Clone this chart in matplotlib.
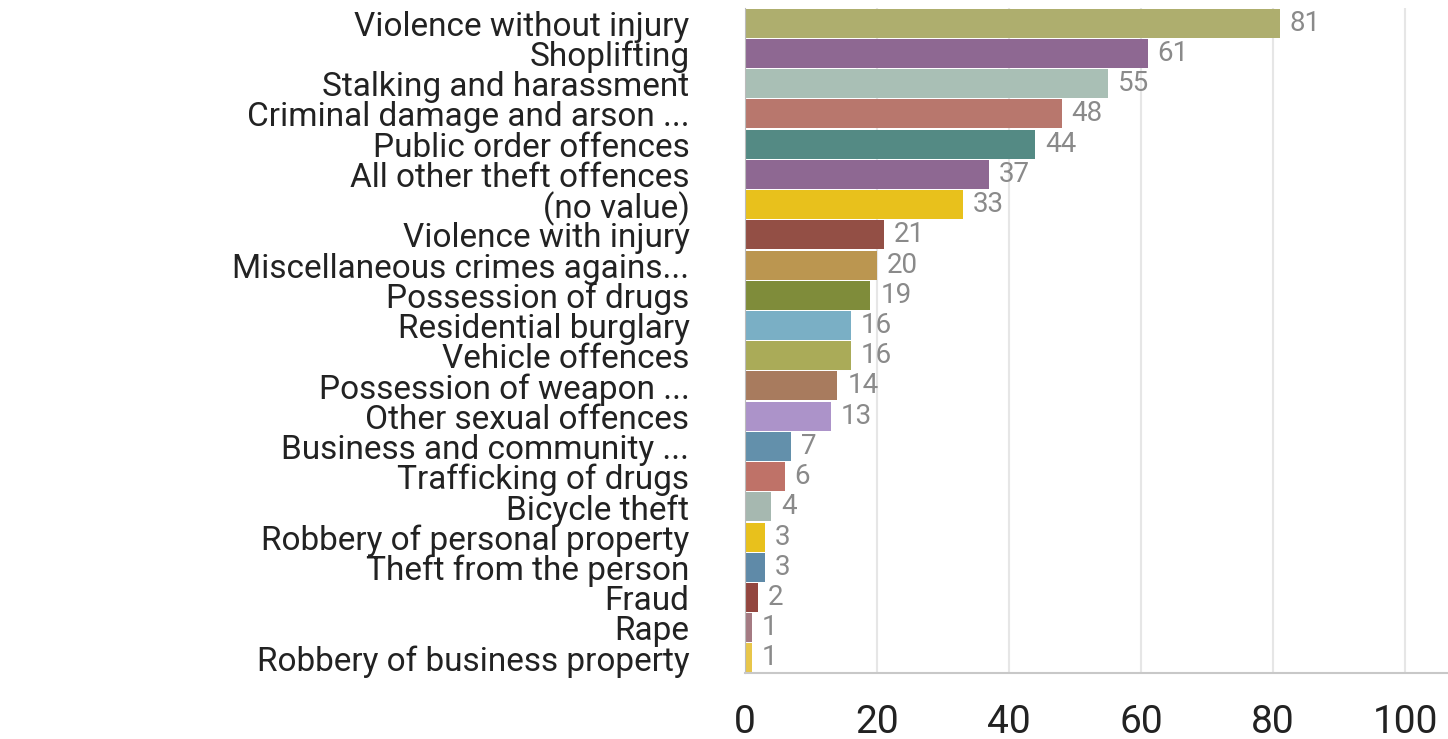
import matplotlib.pyplot as plt
import numpy as np

categories = [
    "Violence without injury", "Shoplifting", "Stalking and harassment",
    "Criminal damage and arson ...", "Public order offences",
    "All other theft offences", "(no value)", "Violence with injury",
    "Miscellaneous crimes agains...", "Possession of drugs",
    "Residential burglary", "Vehicle offences", "Possession of weapon ...",
    "Other sexual offences", "Business and community ...",
    "Trafficking of drugs", "Bicycle theft", "Robbery of personal property",
    "Theft from the person", "Fraud", "Rape", "Robbery of business property",
]
values = [81, 61, 55, 48, 44, 37, 33, 21, 20, 19, 16, 16, 14, 13, 7, 6, 4, 3, 3, 2, 1, 1]
colors = [
    "#aeae6e", "#8e6892", "#a9bfb5", "#b8776d", "#548a84", "#8e6892",
    "#e8c11c", "#934f45", "#bb9650", "#7f8c3a", "#7aafc5", "#aaab58",
    "#a87b5e", "#ac93c9", "#6390ab", "#bf7268", "#a6b8b0", "#e8c11c",
    "#5f8aa8", "#93463f", "#a47a82", "#e8c64a",
]
xticks = [0, 20, 40, 60, 80, 100]

plt.rcParams['font.family'] = ['Roboto', 'DejaVu Sans']

fig = plt.figure(figsize=(14.48, 7.39), dpi=100)
ax = fig.add_axes([0.5145, 0.0893, 0.4855, 0.8997])

y = np.arange(len(categories))
ax.barh(y, values, height=0.96, color=colors, zorder=2)
for yi, v in zip(y, values):
    ax.text(v + 1.5, yi, str(v), va='center', ha='left', fontsize=20,
            color='#8a8a8a', zorder=3)

ax.set_ylim(len(categories) - 0.5, -0.5)
ax.set_xlim(0, 106.5)
ax.set_yticks(y)
ax.set_yticklabels(categories, fontsize=24, color='#222222')
ax.set_xticks(xticks)
ax.set_xticklabels([str(t) for t in xticks], fontsize=28, color='#222222')
ax.tick_params(axis='y', length=0, pad=40)
ax.tick_params(axis='x', length=0, pad=22)
ax.grid(axis='x', color='#e6e6e6', linewidth=1.5, zorder=0)
for s in ['top', 'right']:
    ax.spines[s].set_visible(False)
ax.spines['left'].set_color('#bbbbbb')
ax.spines['bottom'].set_color('#c8c8c8')
ax.spines['bottom'].set_linewidth(1.5)

fig.savefig("out.png", dpi=100)
